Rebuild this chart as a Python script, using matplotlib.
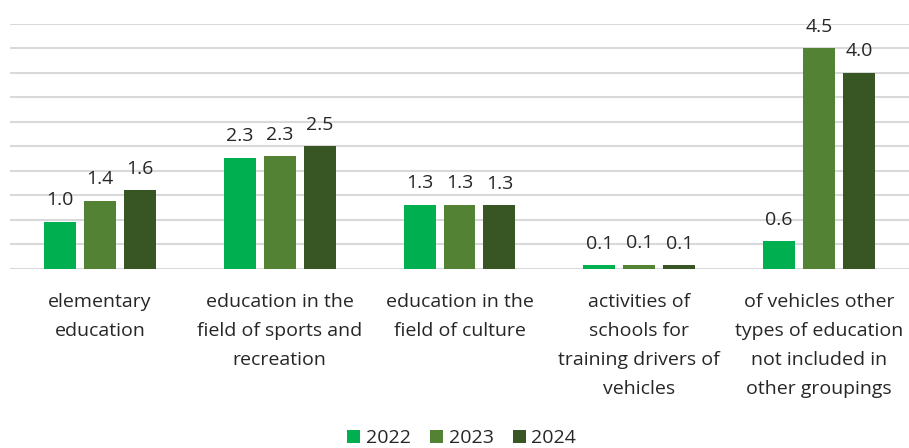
import matplotlib.pyplot as plt
import numpy as np

plt.rcParams['font.family'] = ['Open Sans', 'DejaVu Sans']

categories = [
    "elementary\neducation",
    "education in the\nfield of sports and\nrecreation",
    "education in the\nfield of culture",
    "activities of\nschools for\ntraining drivers of\nvehicles",
    "of vehicles other\ntypes of education\nnot included in\nother groupings",
]
years = ["2022", "2023", "2024"]
v2022 = [0.96, 2.27, 1.31, 0.08, 0.57]
v2023 = [1.39, 2.30, 1.31, 0.09, 4.50]
v2024 = [1.60, 2.50, 1.30, 0.08, 4.00]
colors = ["#00B050", "#548235", "#375623"]

fig = plt.figure(figsize=(9.09, 4.48), dpi=100)
ax = fig.add_axes([10 / 909, 1 - 269 / 448, 1 - 10 / 909, (269 - 23.5) / 448])

x = np.arange(len(categories))
w = 32 / 180
step = 40 / 180
for i, (vals, year) in enumerate(zip([v2022, v2023, v2024], years)):
    bars = ax.bar(x + (i - 1) * step, vals, w, color=colors[i], label=year, zorder=3)
    ax.bar_label(bars, fmt='%.1f', padding=9, fontsize=14, color='#262626')

ax.set_xlim(-0.5, len(categories) - 0.5)
ax.set_ylim(0, 5)
ax.set_yticks(np.arange(0, 5.01, 0.5))
ax.yaxis.grid(True, color='#D9D9D9', linewidth=1.5, zorder=0)
ax.tick_params(axis='y', left=False, labelleft=False)
ax.tick_params(axis='x', length=0, pad=17)
ax.set_xticks(x)
ax.set_xticklabels(categories, fontsize=14, color='#262626', linespacing=1.8)
for s in ax.spines.values():
    s.set_visible(False)

fig.legend(loc='center', bbox_to_anchor=(0.508, 1 - 438 / 448), ncol=3, frameon=False,
           fontsize=14, handlelength=0.65, handleheight=0.65, handletextpad=0.3,
           columnspacing=1.0, labelcolor='#262626')

fig.savefig('out.png', dpi=100)
